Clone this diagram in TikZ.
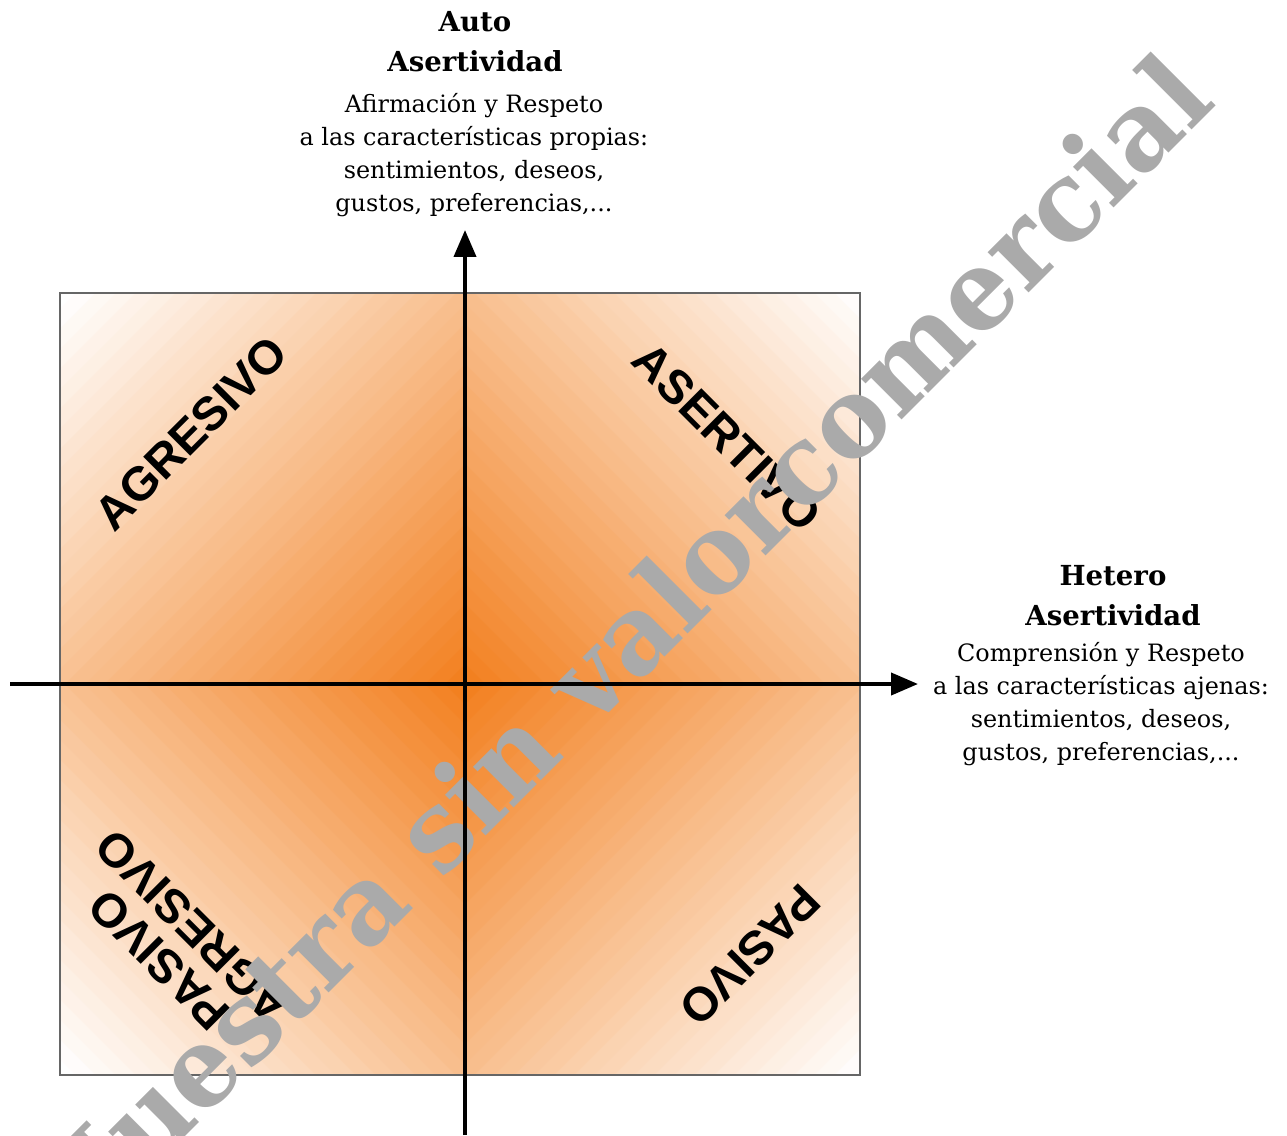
\documentclass[tikz,border=0pt]{standalone}
\usepackage{fontspec}
\setmainfont{DejaVu Serif}
\newfontfamily\etiq{Liberation Sans}
\newfontfamily\marcafont{DejaVu Serif}[FakeStretch=0.96]
\usetikzlibrary{arrows.meta}
\definecolor{naranja}{RGB}{242,128,32}
\definecolor{grismarca}{RGB}{170,170,170}
\def\rombo[#1](#2,#3)(#4){\fill[#1] (#2-#4,#3) -- (#2,#3-#4) -- (#2+#4,#3) -- (#2,#3+#4) -- cycle;}
\tikzset{
  eje/.style={line width=0.08cm, -{Triangle[length=0.54cm,width=0.44cm]}},
  titulo/.style={align=center, font=\bfseries\fontsize{15.7}{22.7}\selectfont},
  texto/.style={align=center, font=\fontsize{13.6}{18.7}\selectfont},
  estilo/.style={align=center, font=\etiq\bfseries\fontsize{27}{27}\selectfont},
  marca/.style={text=grismarca, font=\marcafont\bfseries\fontsize{63}{63}\selectfont}
}
\begin{document}
\begin{tikzpicture}[x=0.02cm, y=-0.02cm]
	%%%%% START %%%%%
	\useasboundingbox (0,0) rectangle (1287,1135);
	
	% degradado en rombos
	\begin{scope}
		\clip (60,293) rectangle (860,1075);
		\foreach \k [evaluate=\k as \r using 800*(1-\k/40), evaluate=\k as \p using int(100*\k/39)] in {0,...,39}
			{\rombo[naranja!\p!white](465,684)(\r)}
	\end{scope}
	\draw[line width=0.6pt, black!60] (60,293) rectangle (860,1075);
	
	% cuadrantes
	\node[estilo, rotate=45] (agresivo) at (191,433) {AGRESIVO};
	\node[estilo, rotate=-45] (asertivo) at (727,437) {ASERTIVO};
	\node[estilo, rotate=225] (pasivo) at (750,955) {PASIVO};
	\node[estilo, rotate=135] (pasivoAgresivo) at (176,943) {PASIVO\\AGRESIVO};
	
	\node[marca, rotate=45, anchor=base east] (marcaAgua) at (1222,100) {Muestra sin valorcomercial};
	
	% ejes
	\coordinate (origen) at (465,684);
	\coordinate (ejeIzq) at (10,684);
	\coordinate (ejeDer) at (918,684);
	\coordinate (ejeAbajo) at (465,1135);
	\coordinate (ejeArriba) at (465,230);
	\draw[eje] (ejeIzq) -- (ejeDer);
	\draw[eje] (ejeAbajo) -- (ejeArriba);
	
	\node[titulo] (autoTit) at (475,42) {Auto\\Asertividad};
	\node[texto] (autoDesc) at (474,155) {Afirmación y Respeto\\a las características propias:\\sentimientos, deseos,\\gustos, preferencias,...};
	
	\node[titulo] (heteroTit) at (1113,596) {Hetero\\Asertividad};
	\node[texto] (heteroDesc) at (1101,704) {Comprensión y Respeto\\a las características ajenas:\\sentimientos, deseos,\\gustos, preferencias,...};
	%%%%% END %%%%%
\end{tikzpicture}
\end{document}
